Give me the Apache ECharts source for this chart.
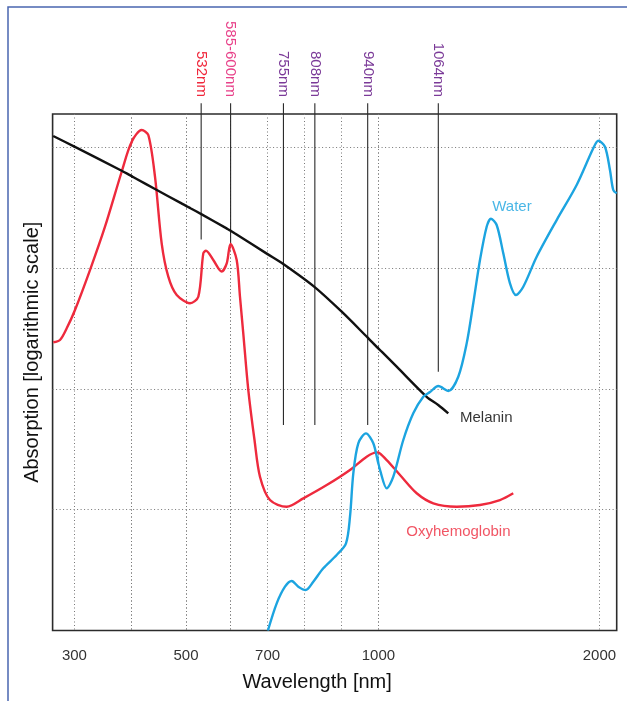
<!DOCTYPE html>
<html>
<head>
<meta charset="utf-8">
<script src="https://cdn.jsdelivr.net/npm/echarts@6/dist/echarts.min.js"></script>
<style>html,body{margin:0;padding:0;background:#fff;}#c{width:627px;height:701px;}</style>
</head>
<body>
<div id="c"></div>
<script>
// ---------- data (wavelength in nm, absorption in log10 relative units) ----------
const tickLabels = [300, 500, 700, 1000, 2000];

const melaninX = [263, 300, 382.5, 392, 400, 410, 442.9, 490, 500, 510, 535.2, 590, 600, 612, 700, 742.6, 828.4, 900.7, 971.1, 985, 1000, 1015, 1082.7, 1218.3, 1270.7, 1316];
const melaninY = [4.094, 4.006, 3.806, 3.782, 3.761, 3.736, 3.655, 3.540, 3.516, 3.496, 3.445, 3.331, 3.310, 3.286, 3.116, 3.034, 2.841, 2.639, 2.424, 2.381, 2.335, 2.308, 2.184, 1.935, 1.867, 1.798];

const oxyX = [263.2, 274.9, 286.6, 301, 327.2, 353.4, 382.5, 400, 418.4, 430.6, 442.9, 455.2, 467.4, 482.9, 509, 527.6, 538.8, 544.8, 561.2, 580, 591.3, 600, 616.5, 625.4, 634.3, 647.9, 664.7, 679.5, 706.6, 751.8, 796.8, 860.1, 923.1, 968.3, 995.4, 1037.5, 1097.7, 1173.2, 1248.3, 1354.1, 1459.4, 1549.9, 1610];
const oxyY = [2.386, 2.405, 2.502, 2.653, 2.984, 3.343, 3.798, 4.046, 4.143, 4.102, 3.757, 3.205, 2.929, 2.777, 2.709, 2.763, 3.122, 3.144, 3.067, 2.972, 3.040, 3.200, 3.067, 2.763, 2.460, 1.991, 1.577, 1.273, 1.080, 1.025, 1.094, 1.204, 1.329, 1.439, 1.475, 1.411, 1.287, 1.136, 1.053, 1.025, 1.039, 1.080, 1.136];

const waterX = [701, 724.8, 747.2, 765.4, 783.2, 803.2, 823.8, 850.9, 887.1, 912.3, 923.1, 932.1, 945.6, 966.4, 986.2, 1000, 1007.2, 1037.5, 1067.4, 1112.6, 1157.8, 1203.1, 1233.4, 1270.9, 1316.1, 1361.3, 1399.4, 1429.2, 1459.5, 1489.8, 1509.3, 1535, 1564.9, 1595.2, 1622.3, 1655.4, 1716, 1806.4, 1896.9, 1972, 1994.6, 2024.9, 2047.5, 2062.4, 2078];
const waterY = [0, 0.225, 0.363, 0.410, 0.363, 0.335, 0.404, 0.515, 0.625, 0.722, 0.942, 1.301, 1.550, 1.632, 1.550, 1.382, 1.329, 1.177, 1.273, 1.577, 1.798, 1.935, 1.974, 2.024, 1.983, 2.101, 2.377, 2.709, 3.067, 3.343, 3.409, 3.357, 3.123, 2.874, 2.777, 2.846, 3.094, 3.398, 3.688, 3.992, 4.055, 4.005, 3.812, 3.647, 3.619];

const annotLabels = ['532nm', '585-600nm', '755nm', '808nm', '940nm', '1064nm'];
const annotX = [534, 600, 743, 828, 971, 1271];
const annotEndY = [3.238, 3.208, 1.701, 1.701, 1.701, 2.142];
const annotTopY = 4.364;

const curveLabels = ['Water', 'Melanin', 'Oxyhemoglobin'];
const curveLabelX = [1604, 1488, 1362];
const curveLabelY = [3.507, 1.757, 0.813];

// ---------- layout / style ----------
const FONT = '"Liberation Sans", Arial, Helvetica, sans-serif';
const RED = '#ee2a3d', BLUE = '#1ca4e0', BLACK = '#111111';
const LW = 2.4;
const annotColors = ['#f0283c', '#e8428a', '#7b3a98', '#7b3a98', '#7b3a98', '#7b3a98'];
const curveLabelColors = [BLUE, '#000', RED];
// the drawn wavelength scale is piecewise: one linear sub-axis per segment
const segNm = [262, 300, 400, 500, 600, 1000, 2078];
const segPx = [52.6, 74.4, 131.7, 186, 230.6, 378.4, 616.7];
const segInterval = [0, 100, 100, 100, 100, 1000];
const TOP = 114, BOTTOM = 630.5, YMAX = 4.276;
const dotted = {color: '#777', type: [1, 2.5], width: 1};

const grid = [{left: segPx[0], top: TOP, width: segPx[6] - segPx[0], height: BOTTOM - TOP,
  show: true, borderColor: '#2b2b2b', borderWidth: 1.6, backgroundColor: 'rgba(0,0,0,0)'}];
const xAxis = [{gridIndex: 0, type: 'value', min: 0, max: 1,
  axisLine: {show: false}, axisTick: {show: false}, axisLabel: {show: false}, splitLine: {show: false},
  name: 'Wavelength [nm]', nameLocation: 'middle', nameGap: 42,
  nameTextStyle: {fontFamily: FONT, fontSize: 20, color: '#111', padding: [0, 35, 0, 0]}}];
const yAxis = [{gridIndex: 0, type: 'value', min: 0, max: YMAX, interval: 1,
  axisLine: {show: false}, axisTick: {show: false}, axisLabel: {show: false},
  splitLine: {show: true, showMinLine: false, showMaxLine: false, lineStyle: dotted},
  name: 'Absorption [logarithmic scale]', nameLocation: 'middle', nameGap: 10,
  nameTextStyle: {fontFamily: FONT, fontSize: 20, color: '#111', padding: [0, 0, 0, 40]}}];

// axis grids 1..6 : ticks, labels, split lines
for (let i = 0; i < 6; i++) {
  const lo = segNm[i], hi = segNm[i + 1], last = i === 5;
  const labs = tickLabels.filter(v => v >= lo && (v < hi || (last && v <= hi)));
  grid.push({left: segPx[i], top: TOP, width: segPx[i + 1] - segPx[i], height: BOTTOM - TOP});
  const ax = {gridIndex: grid.length - 1, type: 'value', min: lo, max: hi,
    axisLine: {show: false}, axisTick: {show: false},
    axisLabel: {show: labs.length > 0, showMinLabel: true, showMaxLabel: true, margin: 18,
      fontFamily: FONT, fontSize: 15, color: '#333',
      formatter: v => labs.indexOf(v) >= 0 ? String(v) : ''},
    splitLine: {show: segInterval[i] > 0, showMaxLine: !last, lineStyle: dotted}};
  if (segInterval[i] > 0) ax.interval = segInterval[i];
  xAxis.push(ax);
  yAxis.push({gridIndex: grid.length - 1, type: 'value', min: 0, max: YMAX, show: false});
}
// series grids 7..12 : same scales, inset by half a line width so that the
// line clip (which grows by half a line width) meets the neighbouring segment exactly
for (let i = 0; i < 6; i++) {
  const k = (segPx[i + 1] - segPx[i]) / (segNm[i + 1] - segNm[i]);
  const eL = i === 0 ? 0 : LW / 2, eR = i === 5 ? 0 : LW / 2;
  const left = segPx[i] + eL, right = segPx[i + 1] - eR;
  grid.push({left, top: TOP, width: right - left, height: BOTTOM - TOP});
  xAxis.push({gridIndex: grid.length - 1, type: 'value', show: false,
    min: segNm[i] + eL / k, max: segNm[i + 1] - eR / k});
  yAxis.push({gridIndex: grid.length - 1, type: 'value', min: 0, max: YMAX, show: false});
}

const series = [];
function addCurve(name, xs, ys, color, z) {
  const data = xs.map((x, k) => [x, ys[k]]);
  for (let i = 0; i < 6; i++) {
    series.push({type: 'line', name, xAxisIndex: 7 + i, yAxisIndex: 7 + i, data,
      smooth: 0.3, showSymbol: false, symbol: 'none', clip: true, silent: true, z,
      lineStyle: {color, width: LW}});
  }
}
addCurve('Oxyhemoglobin', oxyX, oxyY, RED, 3);
addCurve('Melanin', melaninX, melaninY, BLACK, 4);
addCurve('Water', waterX, waterY, BLUE, 5);

function segOf(x) {
  for (let i = 0; i < 6; i++) if (x >= segNm[i] && x < segNm[i + 1]) return i;
  return 5;
}
annotX.forEach((x, k) => {
  const s = segOf(x);
  series.push({type: 'line', xAxisIndex: s + 1, yAxisIndex: s + 1, clip: false, silent: true, z: 2,
    symbol: 'circle', symbolSize: 1, showSymbol: true, itemStyle: {color: 'rgba(0,0,0,0)'},
    lineStyle: {color: '#2a2a2a', width: 1.1},
    data: [
      {value: [x, annotTopY], label: {show: true, formatter: annotLabels[k], position: 'top',
        rotate: -90, align: 'right', verticalAlign: 'middle', distance: 6,
        fontFamily: FONT, fontSize: 15, color: annotColors[k]}},
      {value: [x, annotEndY[k]], label: {show: false}}
    ]});
});

series.push({type: 'scatter', xAxisIndex: 6, yAxisIndex: 6, symbolSize: 0, silent: true, z: 6,
  data: curveLabels.map((t, k) => ({name: t, value: [curveLabelX[k], curveLabelY[k]],
    label: {show: true, position: 'inside', formatter: '{b}', fontFamily: FONT, fontSize: 15,
      color: curveLabelColors[k]}}))});

const chart = echarts.init(document.getElementById('c'), null, {renderer: 'canvas'});
chart.setOption({
  animation: false,
  backgroundColor: '#fff',
  graphic: [{type: 'polyline', silent: true, shape: {points: [[8, 701], [8, 7], [627, 7]]},
    style: {stroke: '#4a66b0', lineWidth: 1.5, fill: null}}],
  grid, xAxis, yAxis, series
});
</script>
</body>
</html>
